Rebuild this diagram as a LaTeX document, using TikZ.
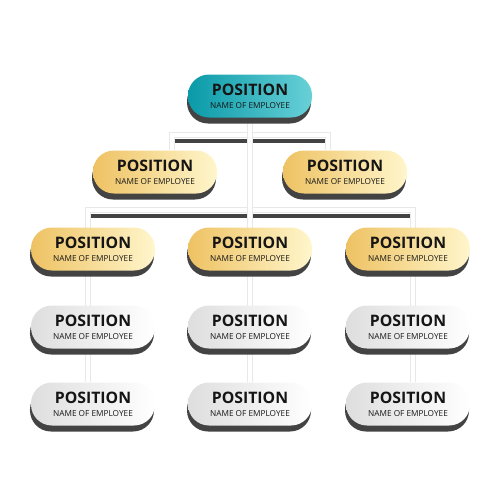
\documentclass[tikz,border=0pt]{standalone}
\usepackage{fontspec}
\setmainfont{Open Sans}
\usetikzlibrary{shadows,backgrounds}
\definecolor{TealA}{HTML}{0A9AA8}
\definecolor{TealB}{HTML}{68D0D7}
\definecolor{GoldA}{HTML}{EEC263}
\definecolor{GoldB}{HTML}{FFF6CC}
\definecolor{PaleA}{HTML}{DEDEDE}
\definecolor{Shade}{HTML}{434343}
\definecolor{Edge}{HTML}{E8E8E8}
\definecolor{Ink}{HTML}{151515}
\newcommand{\card}{{\fontsize{9}{7.6}\selectfont\bfseries POSITION}\\NAME OF EMPLOYEE}
\tikzset{
 pill/.style={rounded corners=4.2mm,minimum width=24.8mm,minimum height=8.6mm,inner sep=0pt,align=center,text=Ink,
  font=\fontsize{4.7}{7.6}\selectfont,
  drop shadow={shadow xshift=-0.2mm,shadow yshift=-1.2mm,fill=Shade,opacity=1}},
 chief/.style={pill,left color=TealA,right color=TealB},
 gold/.style={pill,left color=GoldA,right color=GoldB},
 plain/.style={pill,left color=PaleA,right color=white},
 link/.style={draw=Edge,line width=0.3pt,double=white,double distance=2.8pt},
 bar/.style={draw=Shade,line width=0.8mm}
}
\begin{document}
\begin{tikzpicture}[x=0.2mm,y=-0.2mm]
\useasboundingbox (0,0) rectangle (500,500);
% Chief and second row.
\node[chief] (ceo) at (250,96) {\card};
\node[gold] (l2) at (155,172) {\card};
\node[gold] (r2) at (345,172) {\card};
% Three columns.
\node[gold] (l3) at (93,249) {\card};
\node[gold] (m3) at (250,249) {\card};
\node[gold] (r3) at (408,249) {\card};
\node[plain] (l4) at (93,327) {\card};
\node[plain] (m4) at (250,327) {\card};
\node[plain] (r4) at (408,327) {\card};
\node[plain] (l5) at (93,404) {\card};
\node[plain] (m5) at (250,404) {\card};
\node[plain] (r5) at (408,404) {\card};
% Brackets behind the boxes.
\coordinate (kl) at (172,135);
\coordinate (kr) at (328,135);
\coordinate (hl) at (88,210);
\coordinate (hr) at (413,210);
\begin{scope}[on background layer]
 \draw[bar] ([xshift=0.6mm,yshift=-1.1mm]kl) -- ([xshift=-0.6mm,yshift=-1.1mm]kr);
 \draw[bar] ([xshift=0.6mm,yshift=-1.2mm]hl) -- ([xshift=-0.6mm,yshift=-1.2mm]hr);
 \draw[link] (kl |- l2.north) -- (kl) -- (kr) -- (kr |- r2.north);
 \draw[link] (hl |- l5.north) -- (hl) -- (hr) -- (hr |- r5.north);
 \draw[link] (ceo.south) -- (m5.north);
\end{scope}
\end{tikzpicture}
\end{document}
